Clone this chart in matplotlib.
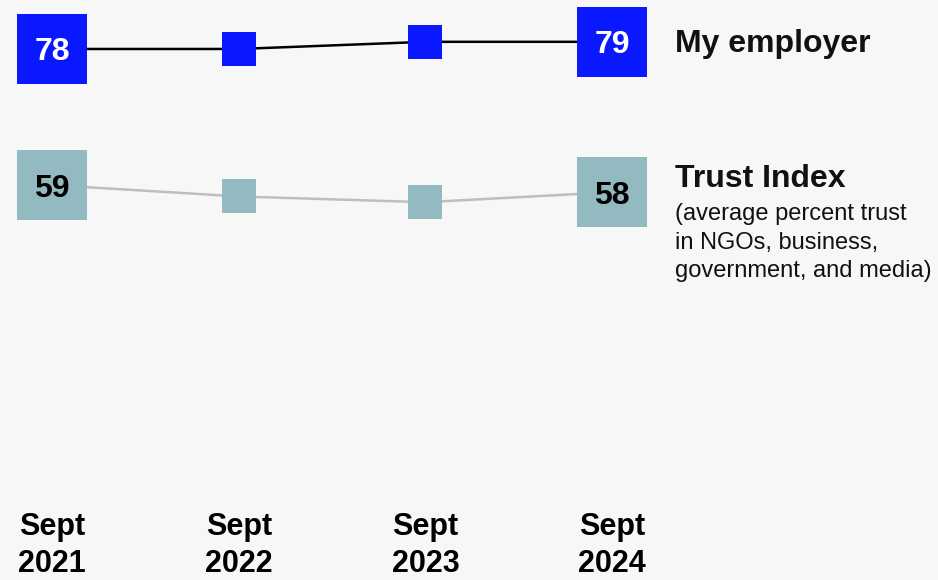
import matplotlib.pyplot as plt

years = ["Sept\n2021", "Sept\n2022", "Sept\n2023", "Sept\n2024"]
employer = [78, 78, 79, 79]
trust_index = [59, 57.4, 56.6, 58]

blue = "#0A18FF"
teal = "#93BAC0"
bg = "#F7F7F7"

plt.rcParams['font.family'] = ['Liberation Sans', 'DejaVu Sans']

fig = plt.figure(figsize=(9.38, 5.8), dpi=100, facecolor=bg)
ax = fig.add_axes([0, 75 / 580, 1, 505 / 580])
ax.set_facecolor(bg)

x = list(range(len(years)))

# lines first, then markers on top
ax.plot(x, employer, color="black", lw=1.8, zorder=1)
ax.plot(x, trust_index, color="#BEBEBE", lw=1.8, zorder=1)

ends = [0, len(x) - 1]
mids = x[1:-1]
ax.plot(mids, [employer[i] for i in mids], "s", color=blue, ms=24.5, mew=0, zorder=2)
ax.plot(mids, [trust_index[i] for i in mids], "s", color=teal, ms=24.5, mew=0, zorder=2)
ax.plot(ends, [employer[i] for i in ends], "s", color=blue, ms=50, mew=0, zorder=2)
ax.plot(ends, [trust_index[i] for i in ends], "s", color=teal, ms=50, mew=0, zorder=2)

for i in ends:
    ax.text(i, employer[i], f"{employer[i]:g}", color="white", fontsize=23,
            fontweight="bold", ha="center", va="center_baseline", zorder=3)
    ax.text(i, trust_index[i], f"{trust_index[i]:g}", color="black", fontsize=23,
            fontweight="bold", ha="center", va="center_baseline", zorder=3)

# series labels at the right
ax.annotate("My employer", (x[-1], employer[-1]), xytext=(45, -7),
            textcoords="offset points", fontsize=23, fontweight="bold",
            ha="left", va="baseline", color="#111111")
ax.annotate("Trust Index", (x[-1], trust_index[-1]), xytext=(45, 3.6),
            textcoords="offset points", fontsize=23, fontweight="bold",
            ha="left", va="baseline", color="#111111")
ax.annotate("(average percent trust\nin NGOs, business,\ngovernment, and media)",
            (x[-1], trust_index[-1]), xytext=(45, -61.2), textcoords="offset points",
            fontsize=17, ha="left", va="baseline", color="#111111", linespacing=1.38)

# x labels (kept just inside the bottom edge)
for i, lab in zip(x, years):
    ax.annotate(lab, (i, 0), xycoords=ax.get_xaxis_transform(), xytext=(0, -48.5),
                textcoords="offset points", ha="center", va="baseline",
                fontsize=22, fontweight="bold", linespacing=1.33, color="black")

px = 186.7
ax.set_xlim(-52 / px, (938 - 52) / px)
ax.set_ylim(14.31, 84.84)
ax.axis("off")

fig.savefig("out.png", dpi=100, facecolor=bg)
